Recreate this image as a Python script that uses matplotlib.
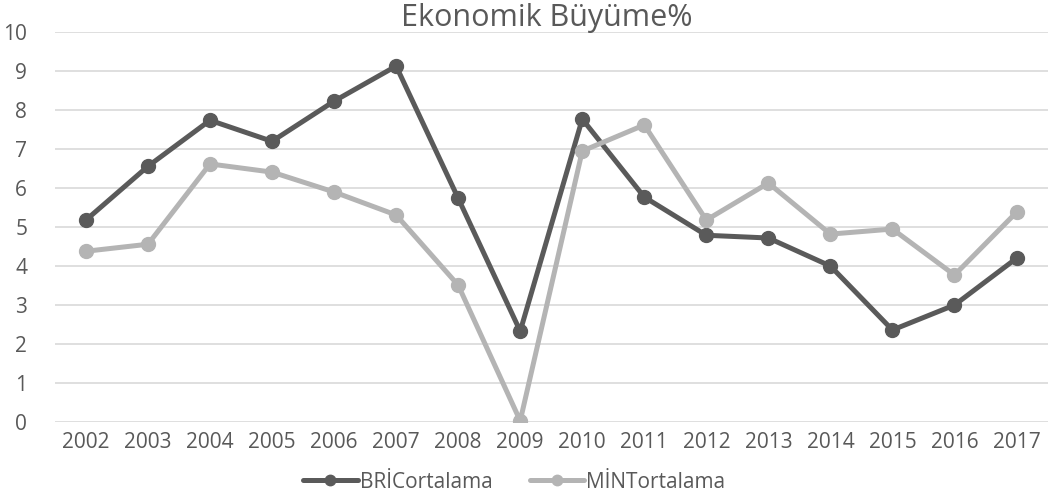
import numpy as np
import matplotlib
matplotlib.use("Agg")
import matplotlib.pyplot as plt

#=========================================================================================
years = [str(y) for y in range(2002, 2018)]
bri = [5.18, 6.56, 7.74, 7.20, 8.23, 9.13, 5.74, 2.33, 7.77, 5.77, 4.79, 4.72, 4.00, 2.36, 3.00, 4.20]
mint = [4.38, 4.56, 6.62, 6.41, 5.90, 5.31, 3.51, 0.03, 6.95, 7.62, 5.18, 6.13, 4.82, 4.95, 3.77, 5.38]

dark = '#5a5a5a'
light = '#b4b4b4'
textColor = '#595959'

plt.rcParams['font.family'] = ['Open Sans', 'DejaVu Sans']

#=========================================================================================
fig = plt.figure(figsize=(10.56, 4.95), dpi=100)
ax = fig.add_axes([0.052, 0.1475, 0.94, 0.7875])

x = np.arange(len(years))
ax.plot(x, bri, color=dark, linewidth=3.6, marker='o', markersize=10, label='BRİCortalama',
        solid_capstyle='round')
ax.plot(x, mint, color=light, linewidth=3.6, marker='o', markersize=10, label='MİNTortalama',
        solid_capstyle='round')

ax.set_xlim(-0.5, len(years) - 0.5)
ax.set_ylim(0, 10)
ax.set_yticks(range(0, 11))
ax.set_xticks(x)
ax.set_xticklabels(years)
ax.grid(axis='y', color='#d9d9d9', linewidth=1.2)
ax.set_axisbelow(True)
for s in ax.spines.values():
    s.set_visible(False)
ax.tick_params(length=0, labelsize=15, colors=textColor, pad=7)
ax.tick_params(axis='y', pad=20)

fig.text(0.518, 0.963, 'Ekonomik Büyüme%', fontsize=22, color=textColor, ha='center', va='center')

fig.legend(loc='center', bbox_to_anchor=(0.487, 0.026), ncol=2, frameon=False,
           fontsize=15, labelcolor=textColor, handlelength=2.6, columnspacing=1.8,
           handletextpad=0.1, markerscale=0.75, borderpad=0)

fig.savefig('out.png', dpi=100)
